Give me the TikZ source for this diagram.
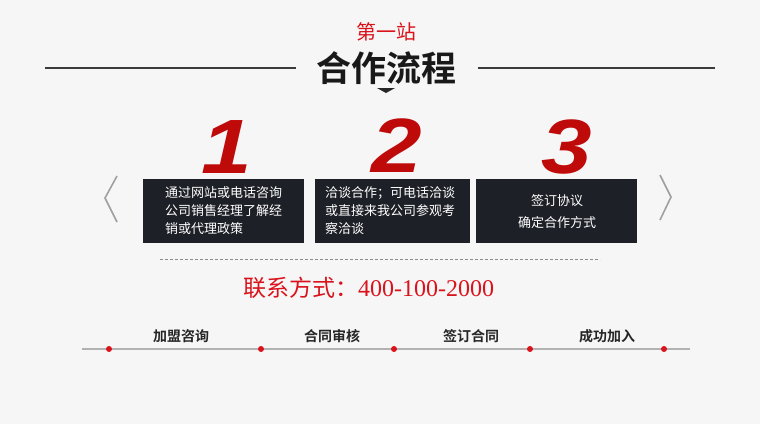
\documentclass[tikz,border=0pt]{standalone}
\usepackage{fontspec}
\setmainfont{Noto Sans CJK SC}[BoldFont={Noto Sans CJK SC Bold}]
\newfontfamily\numfont{Liberation Sans}
\newfontfamily\serifnum{Liberation Serif}
\definecolor{bgc}{HTML}{F6F6F6}
\definecolor{boxc}{HTML}{1E2027}
\definecolor{redc}{HTML}{D9121B}
\definecolor{numc}{HTML}{BF0A0A}
\definecolor{linec}{HTML}{3A3A3A}
\definecolor{chevc}{HTML}{A0A0A0}
\tikzset{
  stepbox/.style={fill=boxc, draw=none, minimum width=160pt, minimum height=64pt, inner sep=0pt, anchor=north west},
  boxtext/.style={text=white, font=\fontsize{13}{18}\selectfont, inner sep=0pt},
  bignum/.style={text=numc, font=\numfont\bfseries\itshape\fontsize{77}{77}\selectfont, inner sep=0pt, anchor=base, transform shape, xscale=1.18},
  reddot/.style={circle, fill=redc, minimum size=6pt, inner sep=0pt},
  steplabel/.style={font=\bfseries\fontsize{14}{14}\selectfont, text=black!85, inner sep=0pt},
  chev/.style={draw=chevc, line width=1.6pt, line join=miter},
}
\begin{document}
\begin{tikzpicture}[x=1pt, y=-1pt]
\fill[bgc] (0,0) rectangle (760,424);
\useasboundingbox (0,0) rectangle (760,424);

% header
\node[text=redc, font=\fontsize{20}{20}\selectfont, inner sep=0pt] (station) at (386,32) {第一站};
\node[text=black!90, font=\bfseries\fontsize{35}{35}\selectfont, inner sep=0pt] (title) at (386,68) {合作流程};
\coordinate (tl1) at (45,68);
\coordinate (tl2) at (296,68);
\coordinate (tr1) at (478,68);
\coordinate (tr2) at (715,68);
\draw[linec, line width=1.3pt] (tl1) -- (tl2);
\draw[linec, line width=1.3pt] (tr1) -- (tr2);
\coordinate (triA) at (377,88);
\coordinate (triB) at (395,88);
\coordinate (triC) at (386,93);
\fill[black!85] (triA) -- (triB) -- (triC) -- cycle;

% big numbers
\node[bignum] (n1) at (227,173) {1};
\node[bignum] (n2) at (397,172) {2};
\node[bignum] (n3) at (567,173) {3};

% boxes
\node[stepbox, minimum width=161pt] (b1) at (143,179) {};
\node[stepbox, minimum width=155pt] (b2) at (315,179) {};
\node[stepbox, minimum width=161pt] (b3) at (476,179) {};
\node[boxtext, anchor=west, align=left] (t1) at (165,211) {通过网站或电话咨询\\公司销售经理了解经\\销或代理政策};
\node[boxtext, anchor=west, align=left] (t2) at (325,211) {洽谈合作；可电话洽谈\\或直接来我公司参观考\\察洽谈};
\node[boxtext, align=center, font=\fontsize{13}{22}\selectfont] (t3) at (557,212) {签订协议\\确定合作方式};

% chevrons
\coordinate (lc1) at (117,176);
\coordinate (lc2) at (105,198);
\coordinate (lc3) at (117,222);
\draw[chev] (lc1) -- (lc2) -- (lc3);
\coordinate (rc1) at (660,175);
\coordinate (rc2) at (671,197);
\coordinate (rc3) at (660,220);
\draw[chev] (rc1) -- (rc2) -- (rc3);

% dashed separator
\coordinate (d1) at (160,259);
\coordinate (d2) at (600,259);
\draw[black!45, dash pattern=on 3pt off 2pt, line width=0.6pt] (d1) -- (d2);

% contact
\node[text=redc, font=\fontsize{23}{23}\selectfont, inner sep=0pt, anchor=west] (contact) at (243,288) {联系方式：{\serifnum\fontsize{24}{24}\selectfont 400-100-2000}};

% bottom timeline
\coordinate (bl) at (82,349);
\coordinate (br) at (690,349);
\draw[black!30, line width=1.2pt] (bl) -- (br);
\node[reddot] (p1) at (109,349) {};
\node[reddot] (p2) at (261,349) {};
\node[reddot] (p3) at (394,349) {};
\node[reddot] (p4) at (530,349) {};
\node[reddot] (p5) at (664,349) {};
\node[steplabel] (s1) at (181,336) {加盟咨询};
\node[steplabel] (s2) at (332,336) {合同审核};
\node[steplabel] (s3) at (471,336) {签订合同};
\node[steplabel] (s4) at (607,336) {成功加入};
\end{tikzpicture}
\end{document}
